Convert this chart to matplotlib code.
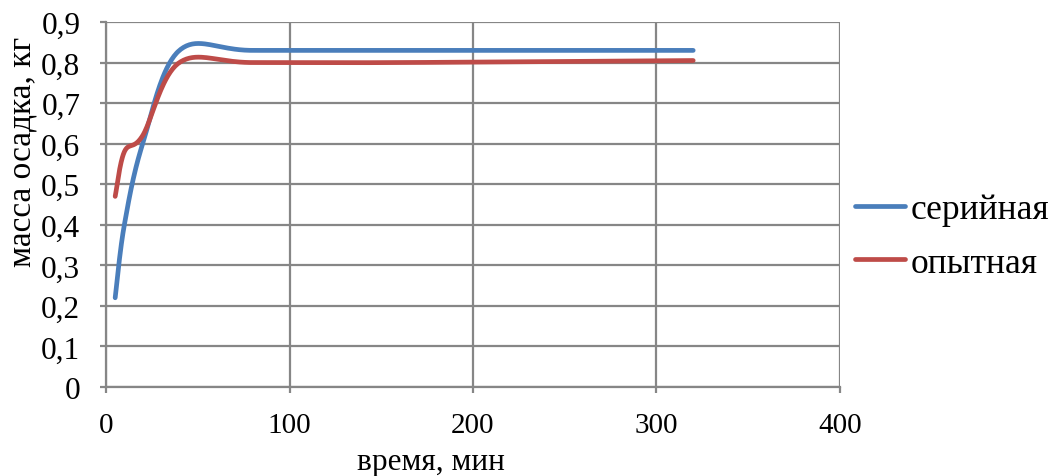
import numpy as np
import matplotlib
matplotlib.use("Agg")
import matplotlib.pyplot as plt
from matplotlib.ticker import FuncFormatter

# время отбора, мин
time_min = [5, 10, 20, 40, 80, 160, 320]
# масса осадка, кг
serial = [0.22, 0.40, 0.60, 0.83, 0.83, 0.83, 0.83]
pilot = [0.47, 0.58, 0.62, 0.80, 0.80, 0.80, 0.805]

series_names = ["серийная", "опытная"]
x_ticks = [0, 100, 200, 300, 400]
y_ticks = [0, 0.1, 0.2, 0.3, 0.4, 0.5, 0.6, 0.7, 0.8, 0.9]


def smooth(xs, ys, n=40):
    # cubic bezier through the points, tangents from neighbours (like spreadsheet smoothing)
    p = np.column_stack([xs, ys]).astype(float)
    ext = np.vstack([p[0], p, p[-1]])
    out = []
    t = np.linspace(0, 1, n)[:, None]
    for i in range(len(p) - 1):
        p0, p3 = p[i], p[i + 1]
        c1 = p0 + (ext[i + 2] - ext[i]) / 6.0
        c2 = p3 - (ext[i + 3] - ext[i + 1]) / 6.0
        seg = ((1 - t) ** 3) * p0 + 3 * ((1 - t) ** 2) * t * c1 \
            + 3 * (1 - t) * t ** 2 * c2 + t ** 3 * p3
        out.append(seg if i == 0 else seg[1:])
    seg = np.vstack(out)
    return seg[:, 0], seg[:, 1]


plt.rcParams['font.family'] = ['Liberation Serif', 'DejaVu Serif']

fig = plt.figure(figsize=(10.6, 4.77), dpi=100)
ax = fig.add_axes([106 / 1060, 1 - 388 / 477, 734 / 1060, 365 / 477])

grid_c = '#868686'
colors = ['#4A7EBB', '#BE4B48']
for ys, name, c in zip([serial, pilot], series_names, colors):
    sx, sy = smooth(time_min, ys)
    ax.plot(sx, sy, color=c, lw=3.4, solid_capstyle='round', label=name, zorder=3)

ax.set_xlim(x_ticks[0], x_ticks[-1])
ax.set_ylim(y_ticks[0], y_ticks[-1])
ax.set_xticks(x_ticks)
ax.set_yticks(y_ticks)
ax.yaxis.set_major_formatter(FuncFormatter(
    lambda v, _: "0" if abs(v) < 1e-9 else ("%.1f" % v).replace(".", ",")))

ax.grid(True, color=grid_c, lw=1.6)
ax.set_axisbelow(True)
for s in ['top', 'right']:
    ax.spines[s].set_visible(False)
for s in ['left', 'bottom']:
    ax.spines[s].set_color(grid_c)
    ax.spines[s].set_linewidth(1.6)
ax.tick_params(axis='both', colors=grid_c, width=1.6, length=4,
               labelcolor='black')
ax.tick_params(axis='y', pad=14.5, labelsize=22.5)
ax.tick_params(axis='x', pad=14, labelsize=21)

fig.text(22 / 1060, 1 - 152 / 477, "масса осадка, кг", rotation=90,
         ha='center', va='center', fontsize=24)
fig.text(431 / 1060, 1 - 463 / 477, "время, мин",
         ha='center', va='center', fontsize=22.5)

ax.legend(loc='center left', bbox_to_anchor=(1.0204, 0.412), frameon=False,
          fontsize=25.5, handlelength=1.42, handletextpad=0.15,
          labelspacing=0.58, borderpad=0, borderaxespad=0)

fig.savefig("out.png", dpi=100)
